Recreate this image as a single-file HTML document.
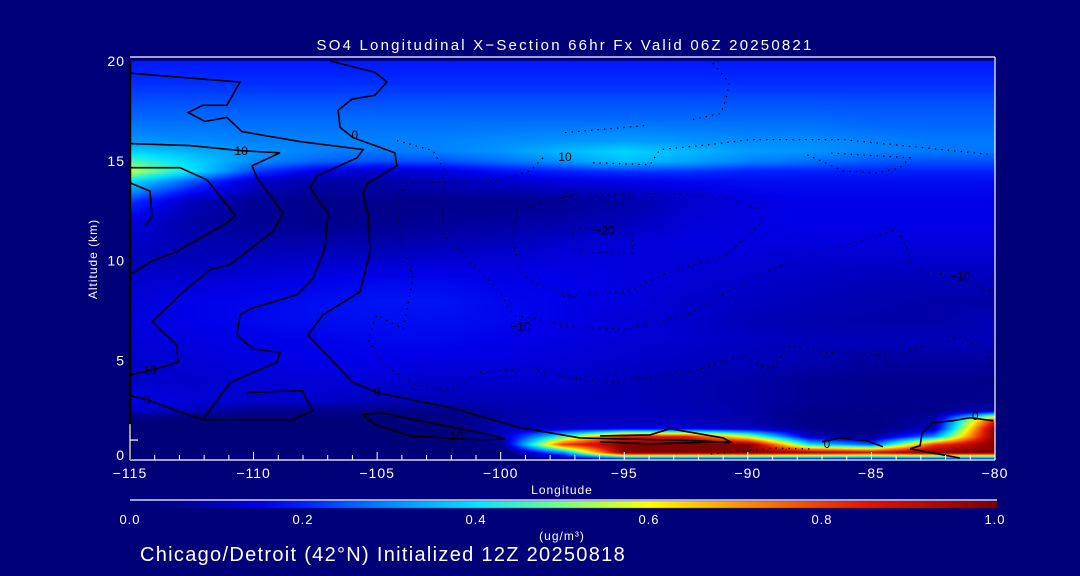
<!DOCTYPE html>
<html><head><meta charset="utf-8">
<style>
html,body{margin:0;padding:0;background:#000078;}
#wrap{position:relative;width:1080px;height:576px;overflow:hidden;background:#000078;font-family:"Liberation Sans",sans-serif;color:#fff;}
canvas{position:absolute;left:0;top:0;}
svg{position:absolute;left:0;top:0;}
text{fill:#fff;font-family:"Liberation Sans",sans-serif;}
</style></head>
<body>
<div id="wrap">
<canvas id="field" width="1080" height="576"></canvas>
<svg id="ov" width="1080" height="576"></svg>
</div>
<script>
// ---- data ----
const lons = [-115,-112.5,-110,-107.5,-105,-102.5,-100,-97.5,-95,-92.5,-90,-87.5,-85,-82.5,-80];
const alts = [0,0.4,0.8,1.2,1.6,2,2.5,3,4,5,6,7,8,9,10,11,12,13,14,14.5,15,15.5,16,17,18,19,20];
const r0   = [0,0,0,0,0,0,0,0,0,0,0,0,0,0,0];
const r04  = [0,0,0,0,0,0,0,.3,1,1,1,.95,.9,1,1];
const r08  = [0,0,0,0,0,0,.05,.8,1,1,1,.4,.25,.8,1];
const r12  = [0,0,0,0,0,0,.1,.45,.85,.85,.55,.1,.05,.3,1];
const r16  = [0,0,0,0,0,0,.1,.12,.15,.15,.12,.05,.03,.1,1];
const r2   = [0,0,0,0,0,.02,.08,.1,.1,.1,.08,.04,.03,.08,.85];
const r25  = [.12,.1,.05,.05,.04,.05,.08,.1,.1,.1,.08,.05,.04,.05,.1];
const r3   = [.15,.13,.12,.12,.1,.1,.1,.1,.1,.09,.08,.06,.05,.05,.05];
const r4   = [.12,.12,.13,.13,.13,.12,.12,.12,.1,.09,.08,.06,.05,.05,.05];
const r5   = [.12,.13,.14,.15,.15,.14,.14,.13,.12,.11,.1,.09,.07,.07,.07];
const r6   = [.13,.14,.15,.15,.16,.16,.15,.14,.13,.12,.11,.1,.1,.1,.1];
const r7   = [.14,.15,.16,.17,.17,.17,.16,.15,.13,.12,.1,.09,.08,.08,.1];
const r8   = [.13,.15,.16,.17,.18,.18,.16,.15,.14,.12,.11,.1,.09,.08,.08];
const r9   = [.12,.13,.14,.15,.16,.16,.15,.15,.14,.13,.12,.11,.1,.1,.1];
const r10  = [.1,.1,.11,.12,.12,.13,.13,.14,.14,.13,.13,.12,.12,.12,.12];
const r11  = [.12,.09,.08,.08,.08,.09,.1,.12,.13,.14,.14,.14,.14,.14,.14];
const r12k = [.14,.08,.06,.05,.05,.06,.07,.08,.1,.13,.14,.15,.15,.15,.15];
const r13  = [.22,.1,.06,.05,.05,.05,.05,.06,.08,.12,.14,.15,.15,.15,.15];
const r14  = [.4,.25,.12,.08,.08,.1,.12,.14,.15,.16,.17,.17,.17,.17,.17];
const r145 = [.55,.4,.23,.15,.12,.14,.18,.2,.22,.22,.2,.2,.2,.2,.2];
const r15  = [.46,.38,.3,.26,.24,.24,.27,.31,.36,.33,.29,.27,.25,.24,.24];
const r155 = [.38,.34,.31,.29,.28,.29,.31,.35,.38,.35,.32,.31,.29,.28,.28];
const r16k = [.31,.3,.29,.29,.29,.29,.3,.31,.32,.31,.3,.3,.29,.28,.28];
const r17  = [.27,.27,.27,.27,.27,.27,.27,.27,.27,.27,.27,.27,.26,.26,.26];
const r18  = [.24,.24,.24,.24,.24,.24,.24,.24,.24,.24,.24,.24,.24,.24,.24];
const r19  = [.21,.21,.21,.21,.21,.21,.21,.21,.21,.21,.21,.21,.21,.21,.21];
const r20  = [.19,.19,.19,.19,.19,.19,.19,.19,.19,.19,.19,.19,.19,.19,.19];
const grid = [r0,r04,r08,r12,r16,r2,r25,r3,r4,r5,r6,r7,r8,r9,r10,r11,r12k,r13,r14,r145,r15,r155,r16k,r17,r18,r19,r20];

const xTicks = [-115,-110,-105,-100,-95,-90,-85,-80];
const xTickLabels = ["\u2212115","\u2212110","\u2212105","\u2212100","\u221295","\u221290","\u221285","\u221280"];
const yTicks = [0,5,10,15,20];
const cbTicks = [0,0.2,0.4,0.6,0.8,1.0];
const cbLabels = ["0.0","0.2","0.4","0.6","0.8","1.0"];

// contours: [lon, alt]
const c1 = [[-115,19.39],[-110.55,18.94],[-111.08,17.78],[-112.05,17.78],[-112.65,17.42],[-111.97,16.97],[-111.08,17.17],[-110.47,16.46],[-108.12,15.96],[-105.57,15.56],[-105.81,15.15],[-107.43,14.24],[-107.72,13.64],[-106.99,12.37],[-107.11,10.61],[-107.6,9.09],[-108.24,8.28],[-110.14,7.58],[-110.55,7.27],[-110.67,6.26],[-110.02,5.56],[-108.93,5.4],[-109.05,4.9],[-110.95,3.89],[-112.05,2.02],[-113.26,2.53],[-114.31,3.03],[-115,3.23]];
const c2 = [[-106.91,20],[-105.09,19.44],[-104.6,18.94],[-105.09,18.28],[-106.02,18.08],[-106.58,17.53],[-106.5,16.67],[-105.98,16.16],[-104.28,15.4],[-104.2,14.75],[-105.41,13.84],[-105.57,13.33],[-105.37,12.32],[-105.29,10.45],[-105.69,8.43],[-107.19,7.27],[-107.8,6.26],[-105.98,3.89],[-105.01,3.38],[-102.05,2.63],[-99.22,1.62],[-96.79,1.11],[-91.94,0.96],[-90.72,0.86]];
const c3 = [[-115,15.86],[-112.57,15.76],[-110.55,15.51],[-108.93,15.4],[-110.06,14.75],[-109.86,14.14],[-108.81,12.37],[-109.21,11.46],[-110.95,9.8],[-111.76,9.55],[-112.98,8.28],[-114.11,6.92],[-113.1,5.76],[-113.06,4.9],[-113.99,4.55],[-115,4.24]];
const c4 = [[-115,13.89],[-114.19,13.48],[-114.11,12.22],[-114.39,11.72]];
const c5 = [[-115,14.65],[-112.98,14.65],[-111.88,14.04],[-110.75,12.27],[-111.03,11.92],[-113.1,10.45],[-114.07,10],[-115,9.29]];
const c6 = [[-110.27,3.38],[-108.04,3.48],[-107.6,2.47],[-108.4,2.02],[-112.05,2.02]];
const c7 = [[-105.61,2.27],[-104.88,2.37],[-102.45,1.77],[-100.43,1.26],[-99.82,1.06],[-100.83,1.01],[-103.66,1.21],[-105.08,1.77],[-105.61,2.27]];
const c8 = [[-95.98,1.21],[-93.96,1.26],[-93.15,1.57],[-91,1.11],[-90.72,0.91],[-93.96,0.81],[-95.98,0.91]];
const c9 = [[-87,0.91],[-86.27,1.11],[-85.18,0.96],[-84.53,0.66]];
const c10 = [[-83.44,0.56],[-83.03,0.71],[-82.95,1.36],[-82.51,1.87],[-81.7,1.97],[-81.01,2.12],[-80.08,1.97]];
const c11 = [[-83.44,0.56],[-81.42,0.1]];
const solidContours = [c1,c2,c3,c4,c5,c6,c7,c8,c9,c10,c11];

const d1 = [[-104.2,16.01],[-102.74,15.51],[-102.25,14.49],[-102.33,13.33],[-102.33,11.31],[-101.12,9.8],[-100.03,8.43],[-99.5,7.27],[-96.79,6.67]];
const d2 = [[-98.29,15.15],[-98.81,14.49],[-100.15,13.99],[-103.55,13.89],[-104.2,13.33],[-104.07,11.31],[-103.55,9.09],[-103.95,6.57],[-105.01,7.27],[-105.37,6.06],[-104.76,4.75],[-103.39,3.74],[-102.05,3.48],[-100.84,4.39],[-98.81,4.55],[-96.79,4.04]];
const d3 = [[-96.79,13.38],[-99.34,12.58],[-99.5,10.96],[-99.22,9.44],[-98.53,8.79],[-96.79,8.08]];
const d4 = [[-91.41,19.9],[-90.75,18.89],[-90.9,18.03],[-91.1,17.37],[-92.25,17.07]];
const d5 = [[-97.4,16.41],[-94.08,16.77]];
const d6 = [[-96.27,14.9],[-93.96,14.8],[-93.56,15.56],[-91.53,15.81],[-89.91,16.06],[-86.15,16.06],[-84.13,15.81],[-80.08,15.3]];
const d7 = [[-87.6,15.3],[-86.15,14.49],[-84.78,14.39],[-83.84,14.65],[-83.44,15.15],[-86.8,15.4]];
const d8 = [[-97.48,13.23],[-93.56,13.38],[-91,13.23],[-89.63,12.63],[-89.39,11.97],[-90.84,10.3],[-93.15,9.44],[-94.89,8.43],[-97.6,8.18]];
const d9 = [[-97.07,11.62],[-94.65,11.31],[-94.69,10.35],[-97.07,10.45],[-97.07,11.62]];
const d10 = [[-97.6,6.67],[-94.89,6.57],[-92.46,7.27],[-90.6,8.59],[-88.98,9.6],[-86.55,10.6],[-83.96,11.57],[-83.56,10.6],[-83.44,9.6],[-81.7,9.19],[-80.08,8.43]];
const d11 = [[-97.6,4.14],[-95.29,3.89],[-91.94,4.55],[-90.2,5.25],[-89.1,4.49],[-88.29,5.76],[-87.08,5.4],[-84.13,5.25],[-81.42,6.16],[-80.32,5.56],[-80.08,4.04]];
const d12 = [[-91.5,0.3],[-89,0.6],[-87.5,0.55]];
const dottedContours = [d1,d2,d3,d4,d5,d6,d7,d8,d9,d10,d11,d12];

const labelText = ["10","0","10","\u221220","\u221210","\u221210","10","0","0","10","0","0"];
const labelLon  = [-110.5,-105.9,-97.4,-95.8,-99.2,-81.4,-114.2,-114.3,-105,-101.8,-86.8,-80.8];
const labelAlt  = [15.5,16.3,15.2,11.5,6.7,9.2,4.5,3.0,3.4,1.2,0.8,2.2];

// ---- axes ----
const X0=130, X1=995, Y0=460, Y1=61;
function xs(lon){ return X0 + (lon - (-115)) / 35 * (X1 - X0); }
function ys(a){ return Y0 - a / 20 * (Y0 - Y1); }

const stops = [[0,[0,0,120]],[0.05,[0,0,140]],[0.1,[0,0,185]],[0.15,[0,0,232]],[0.2,[0,32,255]],[0.25,[0,90,255]],[0.3,[0,140,255]],[0.4,[0,230,255]],[0.5,[120,255,130]],[0.6,[255,255,0]],[0.7,[255,150,0]],[0.85,[230,20,0]],[1.0,[128,0,0]]];
function cmap(v){
  v=Math.max(0,Math.min(1,v));
  for(let i=1;i<stops.length;i++){
    if(v<=stops[i][0]){
      const a=stops[i-1],b=stops[i],t=(v-a[0])/(b[0]-a[0]);
      return [0,1,2].map(k=>Math.round(a[1][k]+(b[1][k]-a[1][k])*t));
    }
  }
  return stops[stops.length-1][1];
}
function sample(lon,alt){
  let i=0; while(i<lons.length-2 && lon>lons[i+1]) i++;
  let j=0; while(j<alts.length-2 && alt>alts[j+1]) j++;
  const tx=Math.max(0,Math.min(1,(lon-lons[i])/(lons[i+1]-lons[i])));
  const ty=Math.max(0,Math.min(1,(alt-alts[j])/(alts[j+1]-alts[j])));
  const a=grid[j][i],b=grid[j][i+1],c=grid[j+1][i],d=grid[j+1][i+1];
  return (a*(1-tx)+b*tx)*(1-ty)+(c*(1-tx)+d*tx)*ty;
}
// field
const cv=document.getElementById('field'), ctx=cv.getContext('2d');
const img=ctx.createImageData(X1-X0, Y0-Y1);
for(let py=0;py<Y0-Y1;py++){
  const alt=(Y0-(Y1+py))/(Y0-Y1)*20;
  for(let px=0;px<X1-X0;px++){
    const lon=-115+px/(X1-X0)*35;
    const c=cmap(sample(lon,alt)); const o=(py*(X1-X0)+px)*4;
    img.data[o]=c[0];img.data[o+1]=c[1];img.data[o+2]=c[2];img.data[o+3]=255;
  }
}
ctx.putImageData(img,X0,Y1);
// colorbar
const cb=ctx.createImageData(X1-X0+2,7);
for(let px=0;px<X1-X0+2;px++){ const c=cmap(px/(X1-X0)); for(let py=0;py<7;py++){const o=(py*(X1-X0+2)+px)*4;cb.data[o]=c[0];cb.data[o+1]=c[1];cb.data[o+2]=c[2];cb.data[o+3]=255;} }
ctx.putImageData(cb,X0,501);

// overlay
const NS='http://www.w3.org/2000/svg', svg=document.getElementById('ov');
function mk(tag,attrs,parent){const e=document.createElementNS(NS,tag);for(const k in attrs)e.setAttribute(k,attrs[k]);(parent||svg).appendChild(e);return e;}
function txt(s,x,y,size,anchor,parent,ls){const t=mk('text',{x:x,y:y,'font-size':size,'text-anchor':anchor||'middle','letter-spacing':ls||0},parent);t.textContent=s;return t;}

const gC=mk('g',{});


solidContours.forEach(c=>{
  const p=mk('polyline',{points:c.map(q=>xs(q[0]).toFixed(1)+','+ys(q[1]).toFixed(1)).join(' '),fill:'none',stroke:'#000',"stroke-width":1.6},gC);
  
  
});
dottedContours.forEach(c=>{
  const p=mk('polyline',{points:c.map(q=>xs(q[0]).toFixed(1)+','+ys(q[1]).toFixed(1)).join(' '),fill:'none',stroke:'#000',"stroke-width":1.3,"stroke-dasharray":'1.5 5'},gC);
  
  
});
labelText.forEach((s,i)=>{
  const t=mk('text',{x:xs(labelLon[i]),y:ys(labelAlt[i])+4,'font-size':12,'text-anchor':'middle',style:'fill:#000'},gC);
  t.textContent=s;
  
  
});

// axes frame
const gA=mk('g',{});


mk('line',{x1:X0,y1:57,x2:X1,y2:57,stroke:'#fff','stroke-width':1.2},gA);
mk('line',{x1:X1,y1:57,x2:X1,y2:Y0,stroke:'#fff','stroke-width':1.2},gA);
mk('line',{x1:X0,y1:Y0,x2:X1,y2:Y0,stroke:'#fff','stroke-width':1.2},gA);
mk('line',{x1:X0,y1:Y1,x2:X0,y2:Y0,stroke:'#000','stroke-width':2.5},gA);
mk('line',{x1:X0,y1:ys(1.8),x2:X0,y2:Y0,stroke:'#fff','stroke-width':1.2},gA);
mk('line',{x1:X0,y1:ys(1),x2:X0+8,y2:ys(1),stroke:'#fff','stroke-width':1.2},gA);
for(let l=-115;l<=-80;l++){
  const major=xTicks.indexOf(l)>=0;
  mk('line',{x1:xs(l),y1:Y0,x2:xs(l),y2:Y0-(major?8:5),stroke:'#fff','stroke-width':1},gA);
}
xTicks.forEach((l,i)=>{const t=txt(xTickLabels[i],xs(l),478,14,'middle',gA,1);
  
  });
yTicks.forEach(a=>{const t=txt(String(a),125,Math.min(ys(a)+5,460),14,'end',gA,1);
  
  });
const xt=txt('Longitude',562,494,12,'middle',gA,1);


const yt=mk('text',{x:0,y:0,'font-size':12,'text-anchor':'middle','letter-spacing':1,transform:'translate(97,259) rotate(-90)'},gA);
yt.textContent='Altitude (km)';


const tt=txt('SO4 Longitudinal X\u2212Section 66hr  Fx Valid 06Z 20250821',565,50,15,'middle',gA,2.2);



// colorbar labels
mk('line',{x1:X0,y1:500,x2:X1+2,y2:500,stroke:'#fff','stroke-width':1.2},gA);
cbTicks.forEach((v,i)=>{const t=txt(cbLabels[i],X0+v*(X1-X0),524,13,'middle',gA,1);
  
  });
const un=txt('(ug/m\u00B3)',562,540,12,'middle',gA,1);


const cap=txt('Chicago/Detroit (42\u00B0N) Initialized 12Z 20250818',140,561,20,'start',gA,1.3);


</script>
</body></html>
